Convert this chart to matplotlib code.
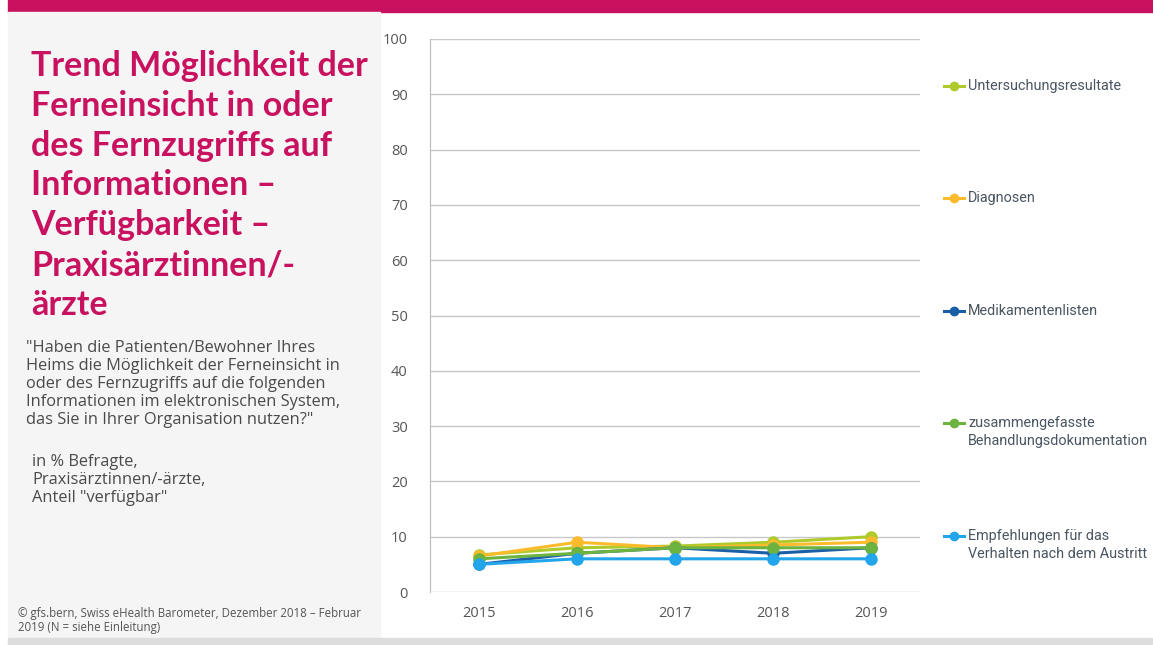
import numpy as np
import matplotlib.pyplot as plt
from matplotlib.patches import Rectangle
from matplotlib.lines import Line2D

jahre = ["2015", "2016", "2017", "2018", "2019"]

untersuchung = [6.7, 8, 8.3, 9, 10]
diagnosen = [6.5, 9, 8, 8.5, 9]
medikamente = [5, 7, 8, 7, 8]
behandlung = [6, 7, 8, 8, 8]
empfehlungen = [5, 6, 6, 6, 6]

serien = [
    ("Untersuchungsresultate", untersuchung, "#AECB2B"),
    ("Diagnosen", diagnosen, "#FBBB2C"),
    ("Medikamentenlisten", medikamente, "#1A5EA8"),
    ("zusammengefasste\nBehandlungsdokumentation", behandlung, "#6DB33F"),
    ("Empfehlungen für das\nVerhalten nach dem Austritt", empfehlungen, "#22A5EA"),
]
legend_y = [86, 198, 311, 432, 545]  # Pixel vom oberen Rand

W, H = 1153, 645
fig = plt.figure(figsize=(W / 100, H / 100), dpi=100)
plt.rcParams['font.family'] = ['Open Sans', 'DejaVu Sans']

def fx(px):
    return px / W

def fy(py):
    return 1 - py / H

# Hintergrund
fig.patches.append(Rectangle((fx(8), fy(12)), fx(1145), 12 / H, transform=fig.transFigure,
                             color="#C8125F", zorder=0))
fig.patches.append(Rectangle((fx(8), fy(638)), fx(372), 626 / H, transform=fig.transFigure,
                             color="#F5F5F5", zorder=0))
fig.patches.append(Rectangle((fx(8), 0), fx(1145), 7 / H, transform=fig.transFigure,
                             color="#DDDDDD", zorder=0))

titel = ("Trend Möglichkeit der\nFerneinsicht in oder\ndes Fernzugriffs auf\n"
         "Informationen –\nVerfügbarkeit –\nPraxisärztinnen/-\närzte")
fig.text(fx(31), fy(50), titel, color="#C8125F", fontsize=24.5, fontweight="bold",
         va="top", ha="left", linespacing=1.3, family=["Lato", "DejaVu Sans"])

frage = ('"Haben die Patienten/Bewohner Ihres\nHeims die Möglichkeit der Ferneinsicht in\n'
         'oder des Fernzugriffs auf die folgenden\nInformationen im elektronischen System,\n'
         'das Sie in Ihrer Organisation nutzen?"')
fig.text(fx(26), fy(340), frage, color="#4A4A4A", fontsize=11.8, va="top", ha="left",
         linespacing=1.16)
fig.text(fx(32), fy(454), 'in % Befragte,\nPraxisärztinnen/-ärzte,\nAnteil "verfügbar"',
         color="#4A4A4A", fontsize=11.8, va="top", ha="left", linespacing=1.16)
fig.text(fx(18), fy(607), "© gfs.bern, Swiss eHealth Barometer, Dezember 2018 – Februar\n"
         "2019 (N = siehe Einleitung)", color="#555555", fontsize=8.3, va="top", ha="left",
         linespacing=1.05)

# Diagramm
ax = fig.add_axes([fx(430), fy(592), fx(490), (592 - 39) / H])
ax.set_facecolor("none")
x = np.arange(len(jahre))
for name, werte, farbe in serien:
    ax.plot(x, werte, color=farbe, linewidth=2.2, marker="o", markersize=8, zorder=3)

ax.set_xlim(-0.5, 4.5)
ax.set_ylim(0, 100)
ax.set_yticks(range(0, 101, 10))
ax.set_xticks(x)
ax.set_xticklabels(jahre)
ax.grid(axis="y", color="#C8C8C8", linewidth=1)
ax.set_axisbelow(True)
for s in ["top", "right", "bottom"]:
    ax.spines[s].set_visible(False)
ax.spines["left"].set_color("#BBBBBB")
ax.tick_params(axis="both", length=0, labelsize=10.5, labelcolor="#555555")
ax.tick_params(axis="y", pad=16)
ax.tick_params(axis="x", pad=10)

# Legende rechts
for (name, werte, farbe), py in zip(serien, legend_y):
    zeilen = name.count("\n") + 1
    ym = fy(py - 9) if zeilen == 2 else fy(py)
    fig.lines.append(Line2D([fx(944), fx(964)], [ym, ym], transform=fig.transFigure,
                            color=farbe, linewidth=2.2))
    fig.lines.append(Line2D([fx(954)], [ym], transform=fig.transFigure, color=farbe,
                            marker="o", markersize=6))
    teile = name.split("\n")
    for i, teil in enumerate(teile):
        fig.text(fx(968), ym - i * 18.5 / H, teil, color="#4A5561", fontsize=10.4,
                 va="center", ha="left", family=["Roboto", "DejaVu Sans"])

fig.savefig("out.png", dpi=100)
